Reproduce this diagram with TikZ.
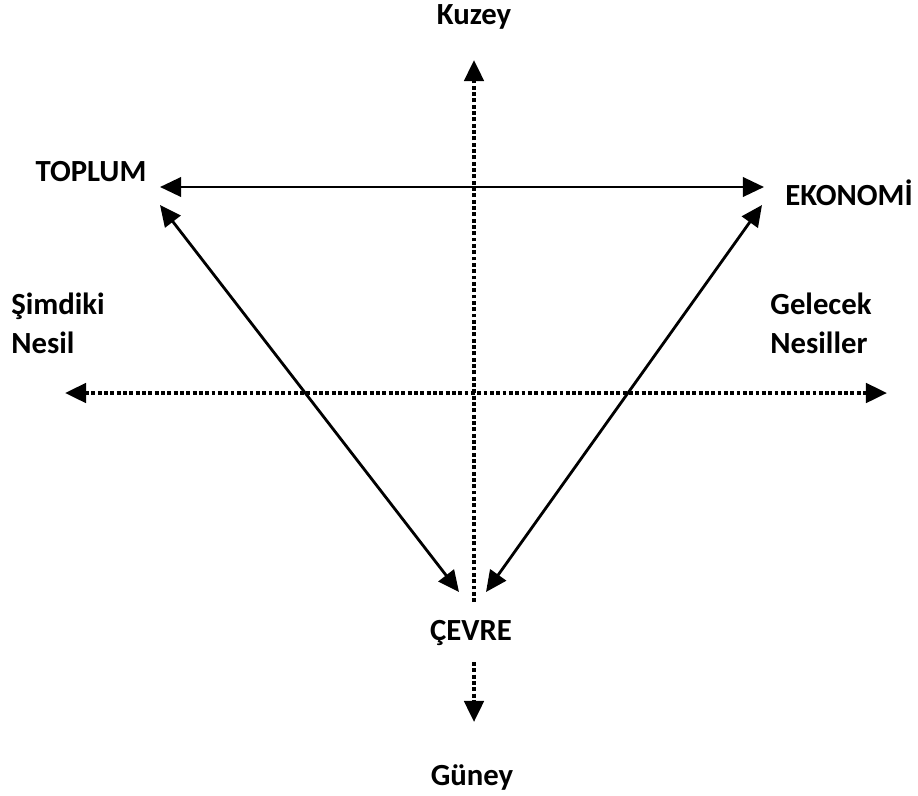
\documentclass[tikz,border=0pt]{standalone}
\usepackage{fontspec}
\setmainfont{Carlito}
\usetikzlibrary{arrows.meta}

\begin{document}
\begin{tikzpicture}[x=0.02cm,y=-0.02cm]
\tikzstyle{every node}=[font=\bfseries\fontsize{17.5}{22}\selectfont, inner sep=0pt]
\tikzstyle{tip}=[{Triangle[length=12pt,width=11pt]}-{Triangle[length=12pt,width=11pt]}, line width=1.6pt]
\tikzstyle{dots}=[line width=2.2pt, dash pattern=on 2.2pt off 1.4pt]
\useasboundingbox (0,0) rectangle (918,795);
\node (kuzey) at (474,17) {Kuzey};
\node (guney) at (472,777) {Güney};
\node (cevre) at (471,633) {ÇEVRE};
\node (toplum) at (91,172) {TOPLUM};
\node (ekonomi) at (849,193) {EKONOMİ};
\node (simdi) [align=left] at (58,323) {Şimdiki\\Nesil};
\node (gelecek) [align=left] at (821,323) {Gelecek\\Nesiller};
\coordinate (n) at (474,60);
\coordinate (s) at (474,602);
\coordinate (s1) at (474,662);
\coordinate (s2) at (474,722);
\coordinate (w) at (65,393);
\coordinate (e) at (887,393);
\coordinate (tl) at (160,187);
\coordinate (tr) at (764,187);
\coordinate (dl) at (160,205);
\coordinate (dr) at (762,205);
\coordinate (bl) at (459,592);
\coordinate (br) at (486,592);
\draw[dots, -{Triangle[length=12pt,width=11pt]}] (s) -- (n);
\draw[dots, -{Triangle[length=12pt,width=11pt]}] (s1) -- (s2);
\draw[dots, {Triangle[length=12pt,width=11pt]}-{Triangle[length=12pt,width=11pt]}] (w) -- (e);
\draw[tip] (tl) -- (tr);
\draw[tip] (dl) -- (bl);
\draw[tip] (dr) -- (br);
\end{tikzpicture}
\end{document}
